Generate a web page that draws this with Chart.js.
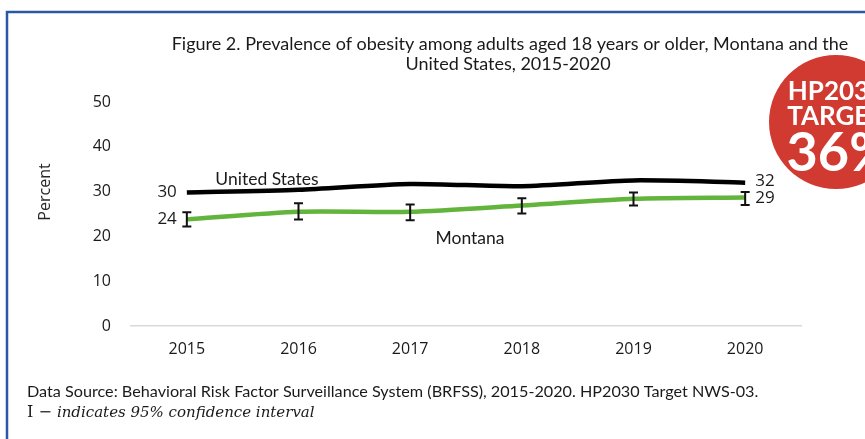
<!DOCTYPE html>
<html>
<head>
<meta charset="utf-8">
<script src="https://cdn.jsdelivr.net/npm/chart.js@4.4.0/dist/chart.umd.min.js"></script>
<style>
  html, body { margin: 0; padding: 0; background: #fff; }
  #wrap { width: 865px; height: 439px; position: relative; }
</style>
</head>
<body>
<div id="wrap"><canvas id="chart" width="865" height="439"></canvas></div>
<script>
// Data
const years = ['2015', '2016', '2017', '2018', '2019', '2020'];
const usValues = [29.8, 30.4, 31.7, 31.2, 32.5, 32.0];
const mtValues = [23.8, 25.5, 25.5, 26.9, 28.4, 28.7];
const mtUpper = [25.4, 27.4, 27.1, 28.5, 29.8, 29.9];
const mtLower = [22.2, 23.8, 23.6, 25.1, 26.9, 27.0];
const yTicks = [0, 10, 20, 30, 40, 50];
const targetValue = 36;

const titleLines = [
    'Figure 2. Prevalence of obesity among adults aged 18 years or older, Montana and the',
    'United States, 2015-2020'
];
const sourceNote = 'Data Source: Behavioral Risk Factor Surveillance System (BRFSS), 2015-2020. HP2030 Target NWS-03.';

const TEXT_FONT = 'Lato, "Open Sans", sans-serif';
const TICK_FONT = '"Open Sans", "Noto Sans", sans-serif';

// Frame, title, notes, target badge
const decorPlugin = {
    id: 'decor',
    beforeDraw(chart) {
        const ctx = chart.ctx;
        ctx.save();
        ctx.fillStyle = '#ffffff';
        ctx.fillRect(0, 0, chart.width, chart.height);
        ctx.strokeStyle = '#2a58a3';
        ctx.lineWidth = 2.5;
        ctx.beginPath();
        ctx.moveTo(7, chart.height + 5);
        ctx.lineTo(7, 12);
        ctx.lineTo(chart.width + 5, 12);
        ctx.stroke();

        ctx.fillStyle = '#1a1a1a';
        ctx.textAlign = 'center';
        ctx.textBaseline = 'middle';
        ctx.font = '18px ' + TEXT_FONT;
        ctx.fillText(titleLines[0], 510, 44);
        ctx.fillText(titleLines[1], 508, 64);

        // y axis title
        ctx.save();
        ctx.translate(45, 192);
        ctx.rotate(-Math.PI / 2);
        ctx.font = '16px ' + TICK_FONT;
        ctx.fillStyle = '#262626';
        ctx.fillText('Percent', 0, 0);
        ctx.restore();

        // footer
        ctx.textAlign = 'left';
        ctx.font = '16.2px ' + TEXT_FONT;
        ctx.fillStyle = '#1a1a1a';
        ctx.fillText(sourceNote, 27, 392);
        ctx.font = '16px "DejaVu Serif", serif';
        ctx.fillText('I \u2212 ', 27, 413);
        const w = ctx.measureText('I \u2212 ').width;
        ctx.font = 'italic 15px "DejaVu Serif", serif';
        ctx.fillText('indicates 95% confidence interval', 27 + w, 413);
        ctx.restore();
    },
    afterDraw(chart) {
        const ctx = chart.ctx;
        const x = chart.scales.x;
        const y = chart.scales.y;
        ctx.save();

        // series end labels
        ctx.font = '17px ' + TICK_FONT;
        ctx.fillStyle = '#1a1a1a';
        ctx.textBaseline = 'middle';
        const first = 0, last = years.length - 1;
        ctx.textAlign = 'right';
        ctx.fillText(Math.round(usValues[first]), x.getPixelForValue(first) - 10, y.getPixelForValue(usValues[first]));
        ctx.fillText(Math.round(mtValues[first]), x.getPixelForValue(first) - 10, y.getPixelForValue(mtValues[first]));
        ctx.textAlign = 'left';
        ctx.fillText(Math.round(usValues[last]), x.getPixelForValue(last) + 10, y.getPixelForValue(usValues[last]) - 1);
        ctx.fillText(Math.round(mtValues[last]), x.getPixelForValue(last) + 10, y.getPixelForValue(mtValues[last]) + 1);

        // series names
        ctx.font = '17.5px ' + TEXT_FONT;
        ctx.textAlign = 'center';
        ctx.fillText('United States', 267, 179);
        ctx.fillText('Montana', 470, 238);

        // HP2030 target badge
        ctx.fillStyle = '#d13a30';
        ctx.beginPath();
        ctx.arc(836, 122, 67, 0, Math.PI * 2);
        ctx.fill();
        ctx.fillStyle = '#ffffff';
        ctx.font = 'bold 26px ' + TEXT_FONT;
        ctx.fillText('HP2030', 836, 92);
        ctx.fillText('TARGET', 836, 117);
        ctx.font = 'bold 54px ' + TEXT_FONT;
        ctx.fillText(targetValue + '%', 840, 154);
        ctx.restore();
    }
};

// 95% confidence interval whiskers for Montana
const errorBarPlugin = {
    id: 'errorBars',
    afterDatasetsDraw(chart) {
        const ctx = chart.ctx;
        const x = chart.scales.x;
        const y = chart.scales.y;
        ctx.save();
        ctx.strokeStyle = '#111111';
        ctx.lineWidth = 2;
        for (let i = 0; i < years.length; i++) {
            const px = x.getPixelForValue(i);
            const top = y.getPixelForValue(mtUpper[i]);
            const bot = y.getPixelForValue(mtLower[i]);
            ctx.beginPath();
            ctx.moveTo(px, top);
            ctx.lineTo(px, bot);
            ctx.moveTo(px - 4.5, top);
            ctx.lineTo(px + 4.5, top);
            ctx.moveTo(px - 4.5, bot);
            ctx.lineTo(px + 4.5, bot);
            ctx.stroke();
        }
        ctx.restore();
    }
};

new Chart(document.getElementById('chart'), {
    type: 'line',
    data: {
        labels: years,
        datasets: [
            {
                label: 'Montana',
                data: mtValues,
                borderColor: '#62b43c',
                borderWidth: 4.5,
                pointRadius: 0,
                tension: 0.25,
                fill: false
            },
            {
                label: 'United States',
                data: usValues,
                borderColor: '#000000',
                borderWidth: 4.5,
                pointRadius: 0,
                tension: 0.25,
                fill: false
            }
        ]
    },
    options: {
        responsive: false,
        animation: false,
        layout: { padding: { left: 10, right: 64, top: 102, bottom: 73 } },
        plugins: {
            legend: { display: false },
            title: { display: false },
            tooltip: { enabled: false }
        },
        scales: {
            x: {
                offset: true,
                grid: { display: false, drawTicks: false },
                border: { display: true, color: '#d9d9d9', width: 1.5 },
                ticks: {
                    padding: 14,
                    color: '#1a1a1a',
                    font: { family: TICK_FONT, size: 16 }
                },
                afterFit(scale) { scale.height = 40; }
            },
            y: {
                min: yTicks[0],
                max: yTicks[yTicks.length - 1],
                grid: { display: false, drawTicks: false },
                border: { display: false },
                afterBuildTicks(scale) { scale.ticks = yTicks.map(v => ({ value: v })); },
                ticks: {
                    padding: 20,
                    color: '#1a1a1a',
                    font: { family: TICK_FONT, size: 16 }
                },
                afterFit(scale) { scale.width = 121; }
            }
        }
    },
    plugins: [decorPlugin, errorBarPlugin]
});
</script>
</body>
</html>
